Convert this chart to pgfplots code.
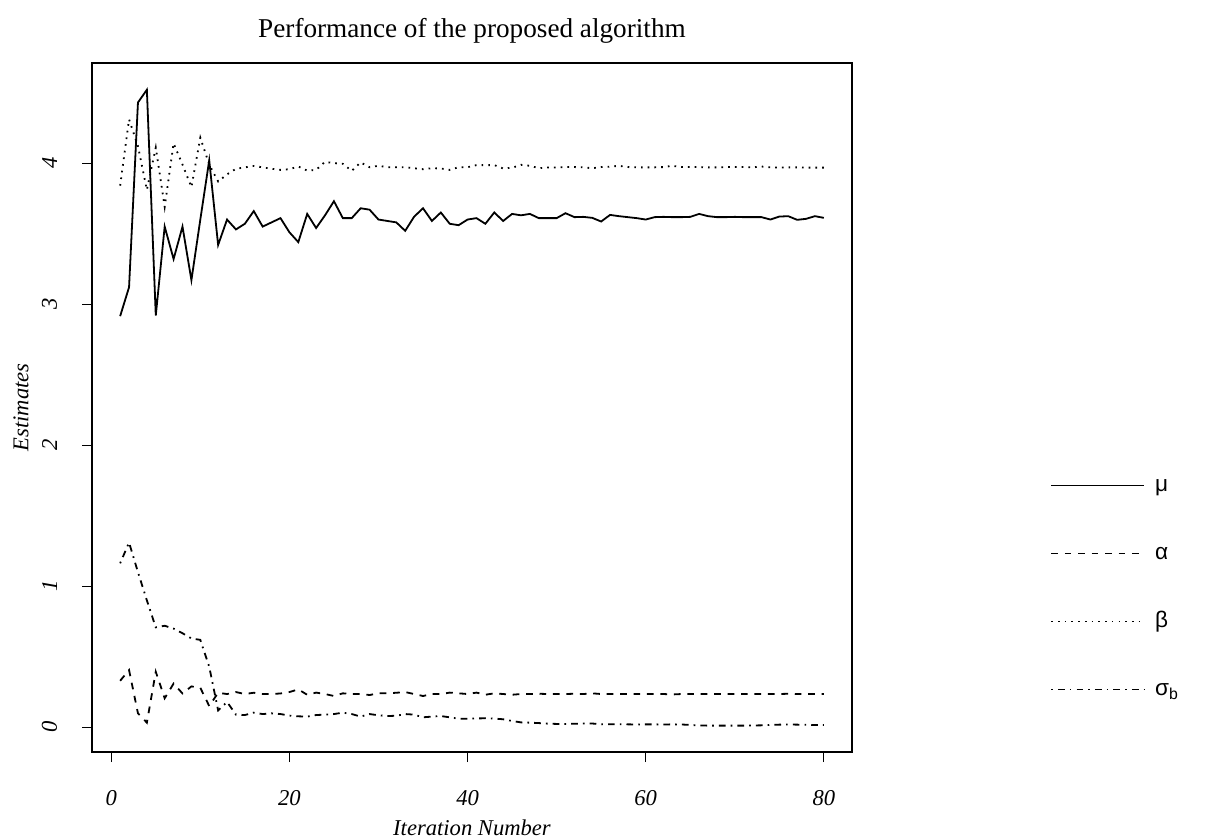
\documentclass[border=0pt]{standalone}
\usepackage{fontspec}
\setmainfont{Liberation Serif}
\newfontfamily\symfont{Liberation Sans}
\usepackage{pgfplots}
\pgfplotsset{compat=1.18}
\usepackage{pgfplotstable}

\pgfplotstableread{
i mu beta alpha sigma
1 2.915 3.84 0.330 1.163
2 3.120 4.31 0.406 1.310
3 4.430 4.12 0.099 1.100
4 4.520 3.81 0.033 0.900
5 2.920 4.11 0.394 0.709
6 3.550 3.69 0.206 0.720
7 3.320 4.14 0.310 0.700
8 3.550 3.99 0.240 0.667
9 3.170 3.83 0.290 0.630
10 3.600 4.18 0.280 0.620
11 4.020 3.99 0.151 0.430
12 3.420 3.87 0.245 0.120
13 3.600 3.92 0.236 0.180
14 3.530 3.96 0.250 0.090
15 3.570 3.97 0.236 0.087
16 3.660 3.98 0.245 0.104
17 3.550 3.97 0.236 0.094
18 3.580 3.96 0.236 0.099
19 3.610 3.952 0.240 0.094
20 3.510 3.957 0.250 0.083
21 3.440 3.976 0.269 0.078
22 3.640 3.947 0.231 0.076
23 3.540 3.952 0.246 0.087
24 3.630 4.009 0.236 0.090
25 3.730 4.000 0.222 0.094
26 3.610 3.995 0.241 0.104
27 3.610 3.945 0.236 0.094
28 3.680 4.005 0.236 0.076
29 3.670 3.971 0.229 0.094
30 3.600 3.981 0.241 0.085
31 3.590 3.971 0.241 0.080
32 3.580 3.971 0.245 0.082
33 3.520 3.971 0.250 0.094
34 3.620 3.964 0.236 0.090
35 3.680 3.957 0.222 0.071
36 3.590 3.964 0.236 0.076
37 3.650 3.962 0.236 0.080
38 3.570 3.952 0.246 0.071
39 3.560 3.971 0.241 0.061
40 3.600 3.971 0.236 0.061
41 3.610 3.986 0.246 0.063
42 3.570 3.986 0.231 0.064
43 3.650 3.986 0.241 0.062
44 3.590 3.962 0.236 0.057
45 3.640 3.967 0.231 0.045
46 3.630 3.988 0.236 0.035
47 3.640 3.981 0.236 0.033
48 3.610 3.964 0.238 0.030
49 3.610 3.969 0.236 0.026
50 3.610 3.969 0.236 0.024
51 3.645 3.972 0.236 0.024
52 3.617 3.972 0.238 0.025
53 3.619 3.970 0.236 0.027
54 3.612 3.964 0.241 0.027
55 3.586 3.972 0.236 0.021
56 3.633 3.975 0.236 0.022
57 3.624 3.981 0.236 0.022
58 3.617 3.972 0.236 0.021
59 3.610 3.970 0.236 0.020
60 3.600 3.970 0.236 0.021
61 3.617 3.970 0.236 0.021
62 3.619 3.972 0.236 0.020
63 3.617 3.981 0.233 0.021
64 3.617 3.972 0.236 0.020
65 3.619 3.972 0.236 0.017
66 3.640 3.972 0.236 0.013
67 3.624 3.970 0.236 0.012
68 3.617 3.970 0.236 0.012
69 3.617 3.972 0.236 0.012
70 3.619 3.972 0.236 0.012
71 3.617 3.972 0.236 0.012
72 3.617 3.970 0.236 0.013
73 3.617 3.976 0.236 0.014
74 3.600 3.970 0.236 0.017
75 3.621 3.968 0.236 0.019
76 3.624 3.970 0.238 0.020
77 3.598 3.970 0.236 0.019
78 3.605 3.968 0.236 0.018
79 3.624 3.968 0.236 0.016
80 3.612 3.968 0.236 0.016
}\estdata

\begin{document}
\begin{tikzpicture}
\path[use as bounding box] (0,0) rectangle (613.5bp,419.5bp);
\begin{axis}[
  at={(46bp,43.5bp)}, anchor=south west,
  scale only axis, width=380bp, height=344.5bp,
  xmin=-2.16, xmax=83.16, ymin=-0.175, ymax=4.71,
  xtick={0,20,40,60,80}, ytick={0,1,2,3,4},
  xtick pos=lower, ytick pos=left,
  tick align=outside, major tick length=5bp,
  tick style={black, line width=0.5bp},
  axis line style={black, line width=0.75bp},
  /pgf/number format/assume math mode=true,
  ticklabel style={font=\fontsize{11.3bp}{13bp}\selectfont\itshape},
  xticklabel style={anchor=north, inner sep=0pt},
  yticklabel style={rotate=90, anchor=south, inner sep=0pt},
  xticklabel shift=14bp, yticklabel shift=12.25bp,
  title={Performance of the proposed algorithm},
  xlabel={Iteration Number}, ylabel={Estimates},
  every axis title/.style={at={(axis description cs:0.5,1)}, anchor=center, yshift=16bp, font=\fontsize{13.6bp}{16bp}\selectfont},
  every axis x label/.style={at={(axis description cs:0.5,0)}, anchor=center, inner sep=0pt, yshift=-38bp, font=\fontsize{11.3bp}{13bp}\selectfont\itshape},
  every axis y label/.style={at={(axis description cs:0,0.5)}, rotate=90, anchor=center, inner sep=0pt, yshift=35.5bp, font=\fontsize{11.3bp}{13bp}\selectfont\itshape},
  legend image code/.code={\draw[#1] (0bp,0bp) -- (46.5bp,0bp);},
  legend style={at={(axis description cs:1,0.399)}, anchor=north west, xshift=99bp,
    draw=none, fill=none, inner sep=0pt, row sep=26bp, column sep=5bp,
    font=\fontsize{11.3bp}{13bp}\symfont,
    nodes={inner sep=0pt, text height=7bp, text depth=1bp}},
  legend cell align=left,
]
\addplot[black, line width=0.9bp] table[x=i, y=mu] {\estdata};
\addlegendentry{μ}
\addplot[black, line width=0.9bp, dash pattern=on 3.36bp off 3.36bp] table[x=i, y=alpha] {\estdata};
\addlegendentry{α}
\addplot[black, line width=0.9bp, dash pattern=on 0.84bp off 2.52bp] table[x=i, y=beta] {\estdata};
\addlegendentry{β}
\addplot[black, line width=0.9bp, dash pattern=on 0.84bp off 2.52bp on 3.36bp off 2.52bp] table[x=i, y=sigma] {\estdata};
\addlegendentry{σ\textsubscript{b}}
\end{axis}
\end{tikzpicture}
\end{document}
